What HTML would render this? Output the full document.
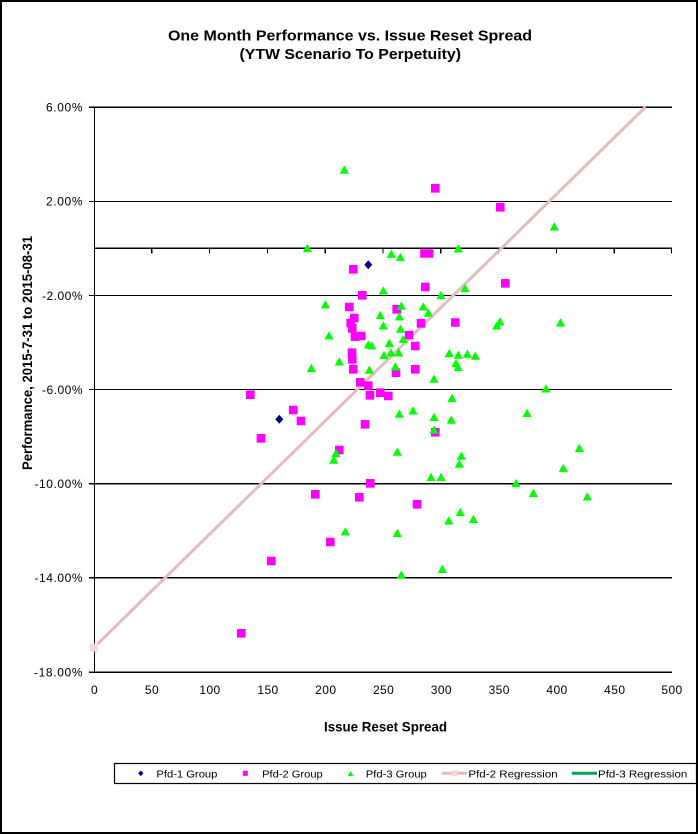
<!DOCTYPE html>
<html><head><meta charset="utf-8"><style>
html,body{margin:0;padding:0;background:#fff}
svg{display:block}
text{font-family:"Liberation Sans",Arial,sans-serif;fill:#000}
</style></head><body>
<svg width="698" height="834" viewBox="0 0 698 834" xmlns="http://www.w3.org/2000/svg">
<rect x="0" y="0" width="698" height="834" fill="#fff"/>
<rect x="1" y="1" width="696" height="832" fill="none" stroke="#000" stroke-width="2"/>

<text x="168" y="40.5" font-size="15" font-weight="bold" textLength="364" lengthAdjust="spacingAndGlyphs">One Month Performance vs. Issue Reset Spread</text>
<text x="239.5" y="58.8" font-size="15" font-weight="bold" textLength="221.5" lengthAdjust="spacingAndGlyphs">(YTW Scenario To Perpetuity)</text>

<path stroke="#000" stroke-width="1.2" fill="none" shape-rendering="crispEdges"
d="M94,107.3H672M94,201.4H672M94,295.5H672M94,389.6H672M94,483.7H672M94,577.8H672M94,672.2H672M94,248.3H672M94.5,107V672.5
M89,107.3H94M89,201.4H94M89,295.5H94M89,389.6H94M89,483.7H94M89,577.8H94M89,672.2H94
M151.8,248.3V253.5M209.6,248.3V253.5M267.4,248.3V253.5M325.2,248.3V253.5M383,248.3V253.5M440.8,248.3V253.5M498.6,248.3V253.5M556.4,248.3V253.5M614.2,248.3V253.5M671.5,248.3V253.5"/>

<g font-size="12">
<text x="46" y="111.6" textLength="36.5" lengthAdjust="spacing">6.00%</text>
<text x="46" y="205.7" textLength="36.5" lengthAdjust="spacing">2.00%</text>
<text x="42" y="299.8" textLength="40.5" lengthAdjust="spacing">-2.00%</text>
<text x="42" y="393.9" textLength="40.5" lengthAdjust="spacing">-6.00%</text>
<text x="34.5" y="488" textLength="48" lengthAdjust="spacing">-10.00%</text>
<text x="34.5" y="582.1" textLength="48" lengthAdjust="spacing">-14.00%</text>
<text x="34" y="676.5" textLength="48.5" lengthAdjust="spacing">-18.00%</text>
</g>

<g font-size="12" text-anchor="middle" letter-spacing="0.4">
<text x="94.5" y="693.8">0</text>
<text x="152" y="693.8">50</text>
<text x="210" y="693.8">100</text>
<text x="268" y="693.8">150</text>
<text x="325.8" y="693.8">200</text>
<text x="383.6" y="693.8">250</text>
<text x="441.4" y="693.8">300</text>
<text x="499.2" y="693.8">350</text>
<text x="557" y="693.8">400</text>
<text x="614.8" y="693.8">450</text>
<text x="672" y="693.8">500</text>
</g>

<text x="324" y="731.7" font-size="14" font-weight="bold" textLength="123" lengthAdjust="spacingAndGlyphs">Issue Reset Spread</text>
<text transform="translate(31.8,470) rotate(-90)" x="0" y="0" font-size="14" font-weight="bold" textLength="234" lengthAdjust="spacingAndGlyphs">Performance, 2015-7-31  to  2015-08-31</text>

<line x1="94" y1="647.5" x2="645.5" y2="107" stroke="#E2BDBD" stroke-width="3"/>
<rect x="90" y="643.5" width="8" height="8" fill="#F3DADA"/>

<path fill="#FF00FF" d="M431,184h8.6v8.6h-8.6zM496,203h8.6v8.6h-8.6zM420.2,249.2h8.6v8.6h-8.6zM424.7,249.2h8.6v8.6h-8.6zM349,265h8.6v8.6h-8.6zM421,282.7h8.6v8.6h-8.6zM501,279h8.6v8.6h-8.6zM358,291h8.6v8.6h-8.6zM345,302.7h8.6v8.6h-8.6zM392.4,305h8.6v8.6h-8.6zM350,313.7h8.6v8.6h-8.6zM346.4,318.7h8.6v8.6h-8.6zM348,324.2h8.6v8.6h-8.6zM350.7,332.4h8.6v8.6h-8.6zM357,331.7h8.6v8.6h-8.6zM416.7,319h8.6v8.6h-8.6zM451,318.2h8.6v8.6h-8.6zM404.7,330.7h8.6v8.6h-8.6zM411,341.7h8.6v8.6h-8.6zM347.7,348.4h8.6v8.6h-8.6zM348,355h8.6v8.6h-8.6zM349,365h8.6v8.6h-8.6zM391.7,368.4h8.6v8.6h-8.6zM411,365h8.6v8.6h-8.6zM356,378h8.6v8.6h-8.6zM364,381.4h8.6v8.6h-8.6zM365.7,391h8.6v8.6h-8.6zM376,388.4h8.6v8.6h-8.6zM384,391.7h8.6v8.6h-8.6zM246,390.4h8.6v8.6h-8.6zM289,405.7h8.6v8.6h-8.6zM296.7,416.7h8.6v8.6h-8.6zM256.7,434h8.6v8.6h-8.6zM360.7,420h8.6v8.6h-8.6zM335,445.7h8.6v8.6h-8.6zM431,428h8.6v8.6h-8.6zM366,479h8.6v8.6h-8.6zM311,490h8.6v8.6h-8.6zM355,493h8.6v8.6h-8.6zM412.7,500h8.6v8.6h-8.6zM326,537.7h8.6v8.6h-8.6zM267,556.7h8.6v8.6h-8.6zM237,629h8.6v8.6h-8.6z"/>

<path fill="#000080" d="M368.3,260.2l4,4.5l-4,4.5l-4,-4.5zM279.3,414.8l4,4.5l-4,4.5l-4,-4.5z"/>

<path fill="#00FF00" d="M344.3,165.5l4.6,8.3h-9.2zM307.3,243.8l4.6,8.3h-9.2zM391.3,249.5l4.6,8.3h-9.2zM400.3,252.8l4.6,8.3h-9.2zM458.3,244.2l4.6,8.3h-9.2zM554.3,222.2l4.6,8.3h-9.2zM383.3,286.2l4.6,8.3h-9.2zM465,283.8l4.6,8.3h-9.2zM441,290.8l4.6,8.3h-9.2zM325.3,300.2l4.6,8.3h-9.2zM401.3,301.5l4.6,8.3h-9.2zM380.3,310.8l4.6,8.3h-9.2zM399.3,312.2l4.6,8.3h-9.2zM423.3,302.2l4.6,8.3h-9.2zM428.3,308.5l4.6,8.3h-9.2zM383.3,321.2l4.6,8.3h-9.2zM400.5,324.5l4.6,8.3h-9.2zM403.3,334.8l4.6,8.3h-9.2zM500,317.2l4.6,8.3h-9.2zM496.7,321.2l4.6,8.3h-9.2zM560.5,318.2l4.6,8.3h-9.2zM329,331.2l4.6,8.3h-9.2zM368.3,340.2l4.6,8.3h-9.2zM371.7,341.2l4.6,8.3h-9.2zM389.3,338.8l4.6,8.3h-9.2zM384,350.8l4.6,8.3h-9.2zM391,348.2l4.6,8.3h-9.2zM398.7,348.2l4.6,8.3h-9.2zM339.3,357.2l4.6,8.3h-9.2zM311.3,363.8l4.6,8.3h-9.2zM369.3,365.5l4.6,8.3h-9.2zM395.3,362.2l4.6,8.3h-9.2zM449.3,348.8l4.6,8.3h-9.2zM458.3,350.5l4.6,8.3h-9.2zM467.3,349.5l4.6,8.3h-9.2zM475.3,351.5l4.6,8.3h-9.2zM456,358.8l4.6,8.3h-9.2zM458.3,362.8l4.6,8.3h-9.2zM434,374.5l4.6,8.3h-9.2zM546,384.2l4.6,8.3h-9.2zM452,393.8l4.6,8.3h-9.2zM527,408.8l4.6,8.3h-9.2zM434,412.8l4.6,8.3h-9.2zM451.3,415.5l4.6,8.3h-9.2zM399.3,409.5l4.6,8.3h-9.2zM413,406.2l4.6,8.3h-9.2zM434,425.5l4.6,8.3h-9.2zM336,448.8l4.6,8.3h-9.2zM333.7,455.5l4.6,8.3h-9.2zM397.3,447.5l4.6,8.3h-9.2zM579.3,443.8l4.6,8.3h-9.2zM461.3,451.5l4.6,8.3h-9.2zM459.3,459.5l4.6,8.3h-9.2zM563.3,463.8l4.6,8.3h-9.2zM431,472.8l4.6,8.3h-9.2zM441,472.8l4.6,8.3h-9.2zM516,478.8l4.6,8.3h-9.2zM533.3,488.8l4.6,8.3h-9.2zM587.3,492.2l4.6,8.3h-9.2zM460.3,507.8l4.6,8.3h-9.2zM448.7,516.2l4.6,8.3h-9.2zM473.3,514.8l4.6,8.3h-9.2zM345.3,527.2l4.6,8.3h-9.2zM397.3,528.8l4.6,8.3h-9.2zM401.3,570.5l4.6,8.3h-9.2zM442.3,564.8l4.6,8.3h-9.2z"/>

<rect x="114.5" y="763.5" width="582" height="20" fill="#fff" stroke="#000" stroke-width="1.2"/>
<path fill="#000080" d="M140.8,770.5l2.6,2.8l-2.6,2.8l-2.6,-2.8z"/>
<rect x="242.8" y="770.8" width="5" height="5" fill="#FF00FF"/>
<path fill="#00FF00" d="M350.6,771l2.8,5h-5.6z"/>
<line x1="442" y1="773.3" x2="467.3" y2="773.3" stroke="#E2BDBD" stroke-width="3"/>
<rect x="451.7" y="770.3" width="6" height="6" fill="#F3DADA"/>
<line x1="571.8" y1="773.3" x2="597" y2="773.3" stroke="#00A651" stroke-width="3"/>
<g font-size="10.5">
<text x="156.4" y="777.3" textLength="61" lengthAdjust="spacingAndGlyphs">Pfd-1 Group</text>
<text x="262.1" y="777.3" textLength="60.6" lengthAdjust="spacingAndGlyphs">Pfd-2 Group</text>
<text x="365.8" y="777.3" textLength="61" lengthAdjust="spacingAndGlyphs">Pfd-3 Group</text>
<text x="468.4" y="777.3" textLength="89.3" lengthAdjust="spacingAndGlyphs">Pfd-2 Regression</text>
<text x="598" y="777.3" textLength="89.3" lengthAdjust="spacingAndGlyphs">Pfd-3 Regression</text>
</g>
</svg>
</body></html>
